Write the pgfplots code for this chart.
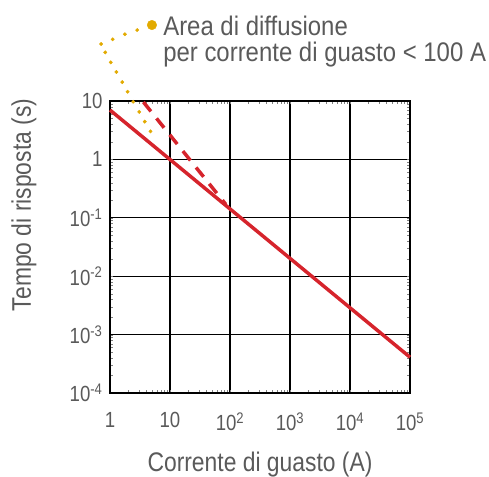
\documentclass[border=0pt]{standalone}
\usepackage{fontspec}
\setmainfont{Liberation Sans}[FakeStretch=0.85]
\newfontfamily\notefont{Liberation Sans}[FakeStretch=0.89]
\usepackage{pgfplots}
\pgfplotsset{compat=1.18}
\definecolor{txtgray}{RGB}{90,90,90}
\definecolor{linered}{RGB}{214,36,44}
\definecolor{dotgold}{RGB}{226,170,0}

\pgfplotstableread{
I t
1 7.0
100000 0.00041
}\solidline

\pgfplotstableread{
I t
3.6 9.6
85 0.17
}\dashline

% dotted leader from the note down into the plot
\pgfplotstableread{
I t
2.84 164
1.77 139
1.11 114
0.713 94.6
0.832 68
1.03 46
1.28 31.4
1.60 21.1
1.96 14.4
2.44 9.7
3.07 6.5
3.80 4.43
4.73 3.03
}\leader

\begin{document}
\begin{tikzpicture}
\begin{axis}[
    scale only axis,
    width=300bp, height=292bp,
    xmode=log, ymode=log,
    xmin=1, xmax=100000,
    ymin=0.0001, ymax=10,
    clip=false,
    axis line style={black, line width=1.3pt},
    grid=major,
    major grid style={black, line width=1.1pt},
    major tick length=0pt,
    xtick={1,10,100,1000,10000,100000},
    xticklabels={1,10,10\textsuperscript{2},10\textsuperscript{3},10\textsuperscript{4},10\textsuperscript{5}},
    ytick={0.0001,0.001,0.01,0.1,1,10},
    yticklabels={10\textsuperscript{-4},10\textsuperscript{-3},10\textsuperscript{-2},10\textsuperscript{-1},1,10},
    tick label style={font=\fontsize{22}{25}\selectfont, text=txtgray},
    xticklabel style={yshift=-16bp},
    yticklabel style={xshift=-4bp},
    xlabel={Corrente di guasto (A)},
    ylabel={Tempo di risposta (s)},
    label style={font=\fontsize{27}{30}\selectfont, text=txtgray},
    xlabel style={at={(axis description cs:0.5,-0.246)}, anchor=center},
    ylabel style={at={(axis description cs:-0.287,0.644)}, anchor=center},
]
\addplot[linered, line width=3.5pt] table {\solidline};
\addplot[linered, line width=3.5pt, dash pattern=on 12bp off 9bp] table {\dashline};
\addplot[only marks, mark=*, mark size=1.7pt, dotgold, mark options={draw=none, fill=dotgold}] table {\leader};
\addplot[only marks, mark=*, mark size=4.8pt, dotgold, mark options={draw=none, fill=dotgold}] coordinates {(5.0,200)};
\node[anchor=base west, inner sep=0, text=txtgray, font=\notefont\fontsize{27}{30}\selectfont]
    at (axis description cs:0.177,1.226) {Area di diffusione};
\node[anchor=base west, inner sep=0, text=txtgray, font=\notefont\fontsize{27}{30}\selectfont]
    at (axis description cs:0.177,1.134) {per corrente di guasto < 100 A};
\end{axis}
\pgfresetboundingbox
\path ([shift={(-110bp,-84bp)}]current axis.south west) rectangle ([shift={(79bp,101bp)}]current axis.north east);
\end{tikzpicture}
\end{document}
